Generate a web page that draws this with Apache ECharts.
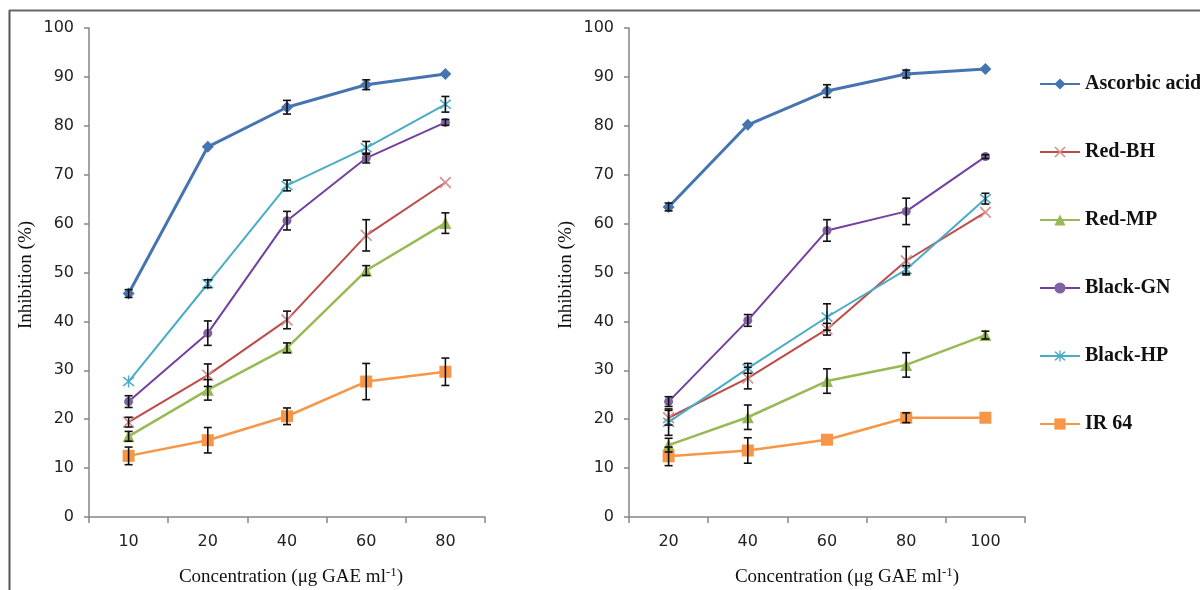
<!DOCTYPE html>
<html>
<head>
<meta charset="utf-8">
<script src="https://cdn.jsdelivr.net/npm/echarts@6/dist/echarts.min.js"></script>
<style>
  html, body { margin: 0; padding: 0; background: #fff; }
  #chart { width: 1200px; height: 590px; }
</style>
</head>
<body>
<div id="chart"></div>
<script>
// categories
const catsLeft = ['10', '20', '40', '60', '80'];
const catsRight = ['20', '40', '60', '80', '100'];
const yTicks = [0, 10, 20, 30, 40, 50, 60, 70, 80, 90, 100];

const names = ['Ascorbic acid', 'Red-BH', 'Red-MP', 'Black-GN', 'Black-HP', 'IR 64'];

// left panel values and errors
const ascorbicL = [45.7, 75.7, 83.8, 88.4, 90.6];
const ascorbicLErr = [0.8, 0, 1.4, 1.0, 0];
const redBHL = [19.4, 29.0, 40.3, 57.6, 68.4];
const redBHLErr = [1.0, 2.3, 1.8, 3.2, 0];
const redMPL = [16.5, 26.0, 34.6, 50.4, 60.1];
const redMPLErr = [1.0, 2.1, 1.0, 1.0, 2.1];
const blackGNL = [23.6, 37.6, 60.6, 73.4, 80.7];
const blackGNLErr = [1.2, 2.5, 1.9, 1.0, 0.6];
const blackHPL = [27.7, 47.7, 67.8, 75.5, 84.4];
const blackHPLErr = [0, 0.8, 1.1, 1.3, 1.6];
const ir64L = [12.5, 15.7, 20.6, 27.7, 29.7];
const ir64LErr = [1.8, 2.6, 1.7, 3.7, 2.8];

// right panel values and errors
const ascorbicR = [63.4, 80.2, 87.1, 90.6, 91.6];
const ascorbicRErr = [0.8, 0, 1.3, 0.8, 0];
const redBHR = [20.3, 28.4, 38.4, 52.4, 62.3];
const redBHRErr = [1.5, 2.2, 1.2, 2.9, 0];
const redMPR = [14.7, 20.4, 27.8, 31.1, 37.2];
const redMPRErr = [1.4, 2.5, 2.5, 2.5, 0.8];
const blackGNR = [23.6, 40.2, 58.6, 62.5, 73.7];
const blackGNRErr = [1.0, 1.2, 2.2, 2.7, 0.4];
const blackHPR = [19.4, 30.4, 40.9, 50.6, 65.1];
const blackHPRErr = [2.7, 1.0, 2.7, 0.8, 1.1];
const ir64R = [12.4, 13.6, 15.8, 20.3, 20.3];
const ir64RErr = [1.9, 2.6, 0, 1.0, 0];

// styles per series
const colors = ['#4674b0', '#be4b48', '#98b954', '#7340a0', '#4bacc6', '#f79646'];
const symbolColors = ['#4674b0', '#d9908e', '#98b954', '#8064a2', '#4bacc6', '#f79646'];
const crossPath = 'path://M0,1 L1,0 L10,9 L9,10 Z M9,0 L10,1 L1,10 L0,9 Z';
const starPath = 'path://M0,1 L1,0 L10,9 L9,10 Z M9,0 L10,1 L1,10 L0,9 Z M4.4,-1 L5.6,-1 L5.6,11 L4.4,11 Z';
const symbols = ['diamond', crossPath, 'triangle', 'circle', starPath, 'rect'];
const symbolSizes = [12, 12, 12, 9, 12, 12];
const lineWidths = [3, 2, 2.5, 2, 2, 2.5];

const leftVals = [ascorbicL, redBHL, redMPL, blackGNL, blackHPL, ir64L];
const leftErrs = [ascorbicLErr, redBHLErr, redMPLErr, blackGNLErr, blackHPLErr, ir64LErr];
const rightVals = [ascorbicR, redBHR, redMPR, blackGNR, blackHPR, ir64R];
const rightErrs = [ascorbicRErr, redBHRErr, redMPRErr, blackGNRErr, blackHPRErr, ir64RErr];

const chart = echarts.init(document.getElementById('chart'));

// 误差线
function renderErr(params, api) {
  const idx = api.value(0);
  const lo = api.coord([idx, api.value(1)]);
  const hi = api.coord([idx, api.value(2)]);
  const w = 4;
  const st = { stroke: '#111', lineWidth: 1.6 };
  return {
    type: 'group',
    children: [
      { type: 'line', shape: { x1: lo[0], y1: lo[1], x2: hi[0], y2: hi[1] }, style: st },
      { type: 'line', shape: { x1: lo[0] - w, y1: lo[1], x2: lo[0] + w, y2: lo[1] }, style: st },
      { type: 'line', shape: { x1: hi[0] - w, y1: hi[1], x2: hi[0] + w, y2: hi[1] }, style: st }
    ]
  };
}

function buildSeries(vals, errs, gi) {
  const out = [];
  const errData = [];
  vals.forEach((v, i) => {
    out.push({
      name: names[i],
      type: 'line',
      xAxisIndex: gi,
      yAxisIndex: gi,
      data: v,
      symbol: symbols[i],
      symbolSize: symbolSizes[i],
      lineStyle: { color: colors[i], width: lineWidths[i] },
      itemStyle: { color: symbolColors[i], borderWidth: 0 },
      emphasis: { disabled: true },
      z: 2
    });
    errs[i].forEach((e, j) => {
      if (e > 0) errData.push([j, v[j] - e, v[j] + e]);
    });
  });
  out.push({
    type: 'custom',
    xAxisIndex: gi,
    yAxisIndex: gi,
    renderItem: renderErr,
    data: errData,
    z: 3,
    silent: true
  });
  return out;
}

const axisColor = '#868686';
const labelStyle = { color: '#222', fontFamily: 'DejaVu Sans', fontSize: 16 };

function xAxis(cats, gi) {
  return {
    type: 'category',
    gridIndex: gi,
    data: cats,
    boundaryGap: true,
    axisLine: { lineStyle: { color: axisColor, width: 1.5 } },
    axisTick: { show: true, length: 6, lineStyle: { color: axisColor, width: 1.5 } },
    axisLabel: Object.assign({ margin: 17 }, labelStyle)
  };
}
function yAxis(gi) {
  return {
    type: 'value',
    gridIndex: gi,
    min: yTicks[0],
    max: yTicks[yTicks.length - 1],
    interval: 10,
    axisLine: { show: true, lineStyle: { color: axisColor, width: 1.5 } },
    axisTick: { show: true, length: 5, lineStyle: { color: axisColor, width: 1.5 } },
    axisLabel: Object.assign({ margin: 15 }, labelStyle),
    splitLine: { show: false }
  };
}

const serif = 'Liberation Serif';
const xTitle = (cx) => ({
  type: 'text',
  x: cx,
  y: 577,
  style: {
    text: '{a|Concentration (μg GAE ml}{s|-1}{a|)}',
    align: 'center',
    verticalAlign: 'middle',
    rich: {
      a: { fontFamily: serif, fontSize: 19, fill: '#111' },
      s: { fontFamily: serif, fontSize: 13, fill: '#111', verticalAlign: 'top', padding: [0, 0, 8, 0] }
    }
  }
});
const yTitle = (cx) => ({
  type: 'text',
  x: cx,
  y: 275,
  rotation: Math.PI / 2,
  style: {
    text: 'Inhibition (%)',
    align: 'center',
    verticalAlign: 'middle',
    fontFamily: serif,
    fontSize: 19,
    fill: '#111'
  }
});

const option = {
  animation: false,
  backgroundColor: '#fff',
  grid: [
    { left: 89, width: 396, top: 28, bottom: 73 },
    { left: 629, width: 396, top: 28, bottom: 73 }
  ],
  xAxis: [xAxis(catsLeft, 0), xAxis(catsRight, 1)],
  yAxis: [yAxis(0), yAxis(1)],
  legend: {
    data: names,
    orient: 'vertical',
    left: 1034,
    top: 69,
    itemWidth: 40,
    itemHeight: 14,
    itemGap: 48,
    selectedMode: false,
    textStyle: { fontFamily: serif, fontWeight: 'bold', fontSize: 20, color: '#111' }
  },
  graphic: [
    { type: 'line', shape: { x1: 9.5, y1: 10, x2: 9.5, y2: 590 }, style: { stroke: '#555', lineWidth: 2 } },
    { type: 'line', shape: { x1: 9, y1: 10.5, x2: 1200, y2: 10.5 }, style: { stroke: '#666', lineWidth: 2 } },
    xTitle(291),
    xTitle(847),
    yTitle(26),
    yTitle(566)
  ],
  series: buildSeries(leftVals, leftErrs, 0).concat(buildSeries(rightVals, rightErrs, 1))
};

chart.setOption(option);
</script>
</body>
</html>
